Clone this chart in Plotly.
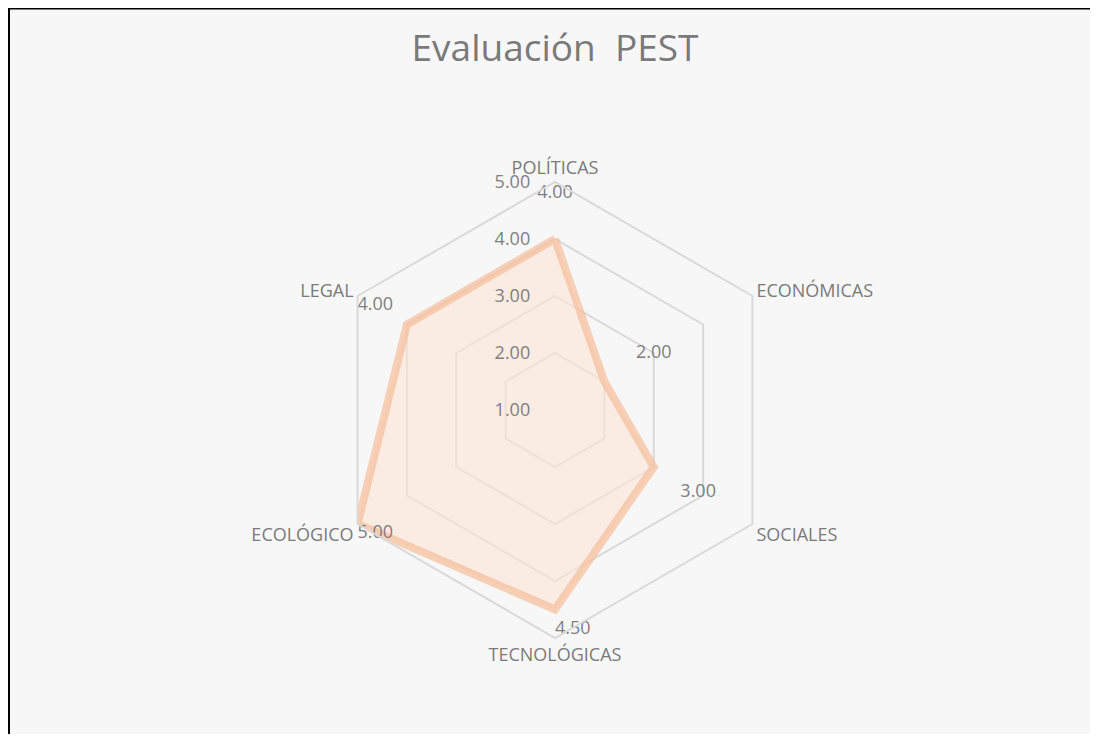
import plotly.graph_objects as go

categories = ["POLÍTICAS", "ECONÓMICAS", "SOCIALES", "TECNOLÓGICAS", "ECOLÓGICO", "LEGAL"]
values = [4.00, 2.00, 3.00, 4.50, 5.00, 4.00]
tick_vals = [1, 2, 3, 4, 5]
tick_text = ["1.00", "2.00", "3.00", "4.00", "5.00"]

# data-label placement (styling only)
label_r = [4.80, 3.00, 3.90, 4.85, 5.00, 5.00]
label_positions = ["middle center", "middle center", "middle center", "middle right", "bottom right", "bottom right"]

# page has an 8px body margin; keep the figure inside the window
OFF = 8
W, H = 1098 - 2 * OFF, 742 - 2 * OFF
cx, cy, R = 555 - OFF, 410 - OFF, 228

FONT = "Open Sans, sans-serif"
GRAY = "#7f7f7f"

fig = go.Figure()
fig.add_trace(go.Scatterpolar(
    r=values + values[:1],
    theta=categories + categories[:1],
    mode="lines",
    fill="toself",
    fillcolor="rgba(252,228,214,0.6)",
    line=dict(color="rgba(246,186,148,0.65)", width=8),
    hoverinfo="skip",
    showlegend=False,
))
fig.add_trace(go.Scatterpolar(
    r=label_r,
    theta=categories,
    mode="text",
    text=[f"{v:.2f}" for v in values],
    textposition=label_positions,
    textfont=dict(family=FONT, size=18, color=GRAY),
    hoverinfo="skip",
    showlegend=False,
))

fig.update_layout(
    width=W, height=H,
    margin=dict(l=0, r=0, t=0, b=0),
    paper_bgcolor="#f7f7f7",
    title=dict(text="Evaluación  PEST", x=cx / W, xanchor="center", y=1 - (48 - OFF) / H, yanchor="middle",
               font=dict(family=FONT, size=37, color="#7a7a7a")),
    polar=dict(
        domain=dict(x=[(cx - R) / W, (cx + R) / W], y=[1 - (cy + R) / H, 1 - (cy - R) / H]),
        bgcolor="rgba(0,0,0,0)",
        gridshape="linear",
        radialaxis=dict(
            range=[1, 5], tickvals=tick_vals, ticktext=tick_text,
            angle=90, side="counterclockwise", tickangle=90,
            showline=False, ticks="outside", ticklen=18, tickcolor="rgba(0,0,0,0)",
            gridcolor="#d9d9d9", gridwidth=2,
            tickfont=dict(family=FONT, size=18, color=GRAY),
        ),
        angularaxis=dict(
            rotation=90, direction="clockwise",
            showgrid=False, showline=True, linecolor="#d9d9d9", linewidth=2,
            ticks="",
            tickfont=dict(family=FONT, size=18, color="#7a7a7a"),
        ),
    ),
    shapes=[
        dict(type="line", xref="paper", yref="paper", x0=1 / W, x1=1, y0=1, y1=1,
             line=dict(color="black", width=3)),
        dict(type="line", xref="paper", yref="paper", x0=1 / W, x1=1 / W, y0=0, y1=1,
             line=dict(color="black", width=2)),
    ],
)

fig.write_html("out.html")
